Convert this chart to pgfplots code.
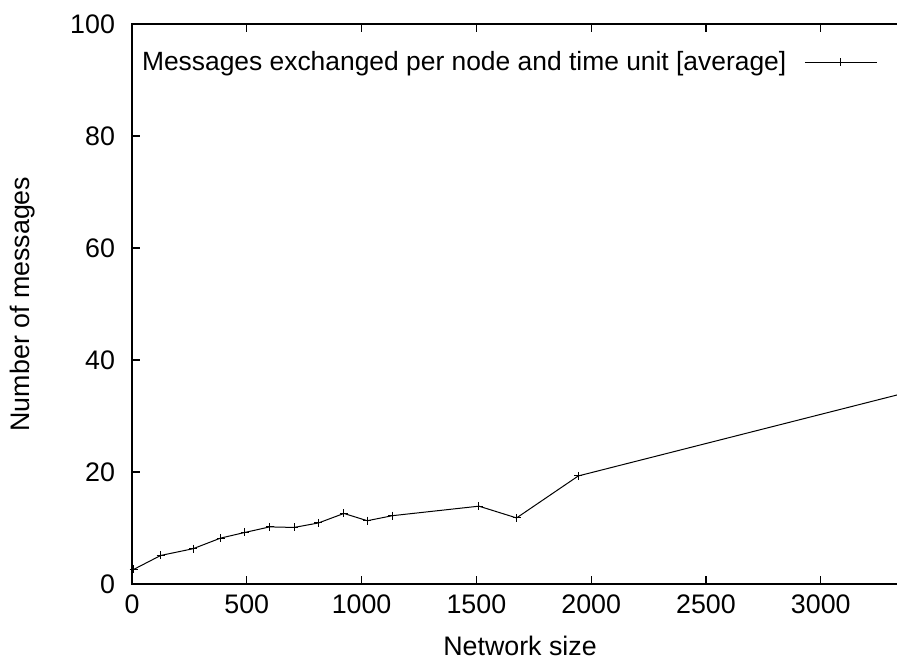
\documentclass[border=0pt]{standalone}
\usepackage{fontspec}
\setmainfont{Liberation Sans}
\usepackage{pgfplots}
\pgfplotsset{compat=1.18}
\begin{document}
\begin{tikzpicture}
\begin{axis}[
  at={(0,0)}, anchor=origin,
  scale only axis, width=388pt, height=280pt,
  xmin=0, xmax=3380, ymin=0, ymax=100,
  xtick={0,500,...,3000}, ytick={0,20,...,100},
  tick align=inside, major tick length=4pt,
  xtick pos=both, ytick pos=left,
  /pgf/number format/assume math mode=true,
  /pgf/number format/1000 sep={},
  tick label style={font=\fontsize{13.4}{15}\selectfont},
  label style={font=\fontsize{13.4}{15}\selectfont},
  xlabel={Network size}, ylabel={Number of messages},
  xlabel style={at={(rel axis cs:0.5,0)}, anchor=base, yshift=-35.5pt},
  ylabel style={at={(rel axis cs:0,0.5)}, anchor=center, yshift=54.5pt},
  xticklabel style={yshift=-2pt}, yticklabel style={xshift=-5pt},
  axis line style={line width=0.6pt},
  every tick/.style={line width=0.6pt, black},
  legend style={at={(rel axis cs:0.961,0.959)}, anchor=north east, draw=none, fill=none, inner sep=0pt,
    font=\fontsize{13.2}{15}\selectfont, /tikz/every odd column/.append style={column sep=7pt}},
  legend plot pos=right,
  legend cell align=right,
  legend image code/.code={\draw[#1,mark repeat=2,mark phase=2] plot coordinates {(0pt,0pt) (18pt,0pt) (36pt,0pt)};},
]
\addplot[black, line width=0.5pt, mark=+, mark size=2pt, mark options={line width=0.5pt}] coordinates {
(7,2.6) (125,5.1) (266,6.3) (386,8.2) (491,9.2) (600,10.2) (706,10.1) (812,10.9)
(923,12.6) (1025,11.3) (1134,12.2) (1511,13.9) (1675,11.8) (1944,19.3) (3380,34.25)
};
\addlegendentry{Messages exchanged per node and time unit [average]}
\end{axis}
\pgfresetboundingbox
\useasboundingbox (-66pt,-37.5pt) rectangle (382.5pt,292pt);
\end{tikzpicture}
\end{document}
